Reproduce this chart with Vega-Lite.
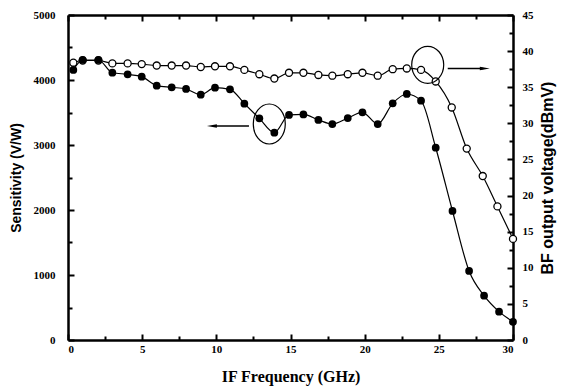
{
  "$schema": "https://vega.github.io/schema/vega-lite/v6.json",
  "width": 445,
  "height": 325,
  "autosize": {"type": "none"},
  "padding": {"left": 68, "top": 15, "right": 48, "bottom": 50},
  "background": "white",
  "config": {
    "view": {"stroke": null},
    "font": "Liberation Serif",
    "axis": {
      "domainColor": "black",
      "domainWidth": 2.5,
      "tickColor": "black",
      "tickWidth": 2,
      "labelFont": "Liberation Serif",
      "labelFontWeight": "bold",
      "labelFontSize": 11,
      "labelColor": "black",
      "titleFont": "Liberation Serif",
      "titleFontWeight": "bold",
      "titleFontSize": 14,
      "titleColor": "black",
      "grid": false
    }
  },
  "datasets": {
    "sens": [
      {"f": 0.36, "s": 4154}, {"f": 0.99, "s": 4308}, {"f": 2.05, "s": 4308}, {"f": 2.99, "s": 4112},
      {"f": 4.02, "s": 4087}, {"f": 4.97, "s": 4051}, {"f": 5.98, "s": 3913}, {"f": 6.99, "s": 3887},
      {"f": 7.96, "s": 3862}, {"f": 8.95, "s": 3774}, {"f": 9.91, "s": 3882}, {"f": 10.92, "s": 3857},
      {"f": 11.89, "s": 3636}, {"f": 12.9, "s": 3410}, {"f": 13.91, "s": 3190}, {"f": 14.9, "s": 3462},
      {"f": 15.87, "s": 3470}, {"f": 16.88, "s": 3385}, {"f": 17.82, "s": 3323}, {"f": 18.86, "s": 3415},
      {"f": 19.85, "s": 3503}, {"f": 20.88, "s": 3323}, {"f": 21.89, "s": 3641}, {"f": 22.84, "s": 3785},
      {"f": 23.8, "s": 3682}, {"f": 24.79, "s": 2958}, {"f": 25.92, "s": 1985}, {"f": 27.04, "s": 1062},
      {"f": 28.05, "s": 682}, {"f": 29.06, "s": 436}, {"f": 30, "s": 280}
    ],
    "volt": [
      {"f": 0.36, "v": 38.4}, {"f": 0.99, "v": 38.7}, {"f": 2.05, "v": 38.7}, {"f": 2.99, "v": 38.3},
      {"f": 4.02, "v": 38.3}, {"f": 4.97, "v": 38.2}, {"f": 5.98, "v": 38.0}, {"f": 6.99, "v": 38.0},
      {"f": 7.96, "v": 38.0}, {"f": 8.95, "v": 37.8}, {"f": 9.91, "v": 37.9}, {"f": 10.92, "v": 37.9},
      {"f": 11.89, "v": 37.4}, {"f": 12.9, "v": 36.8}, {"f": 13.91, "v": 36.2}, {"f": 14.9, "v": 37.0},
      {"f": 15.87, "v": 37.0}, {"f": 16.88, "v": 36.7}, {"f": 17.82, "v": 36.6}, {"f": 18.86, "v": 36.8},
      {"f": 19.85, "v": 37.0}, {"f": 20.88, "v": 36.6}, {"f": 21.89, "v": 37.5}, {"f": 22.84, "v": 37.6},
      {"f": 23.8, "v": 37.4}, {"f": 24.79, "v": 35.8}, {"f": 25.87, "v": 32.2}, {"f": 26.88, "v": 26.5},
      {"f": 27.96, "v": 22.7}, {"f": 28.95, "v": 18.5}, {"f": 30, "v": 14.0}
    ],
    "ellR": [{"f": 24.25, "v": 38.1}],
    "arrR": [{"f": 25.6, "f2": 28.0, "v": 37.6}],
    "headR": [{"f": 28.1, "v": 37.6}],
    "ellL": [{"f": 13.57, "s": 3323}],
    "arrL": [{"f": 12.2, "f2": 9.8, "s": 3292}],
    "headL": [{"f": 9.7, "s": 3292}]
  },
  "layer": [
    {
      "encoding": {
        "x": {
          "field": "f", "type": "quantitative",
          "scale": {"domain": [0, 30], "nice": false},
          "axis": {
            "orient": "top", "labels": false, "title": null,
            "values": [0, 2.5, 5, 7.5, 10, 12.5, 15, 17.5, 20, 22.5, 25, 27.5, 30],
            "tickSize": {"condition": {"test": "datum.value % 5 === 0", "value": -6}, "value": -4}
          }
        },
        "y": {
          "field": "v", "type": "quantitative",
          "scale": {"domain": [0, 45], "nice": false},
          "axis": {
            "orient": "right", "title": "BF output voltage(dBmV)", "titleAngle": 270,
            "titleFont": "Liberation Sans", "titleFontSize": 16,
            "titlePadding": 22,
            "values": [0, 2.5, 5, 7.5, 10, 12.5, 15, 17.5, 20, 22.5, 25, 27.5, 30, 32.5, 35, 37.5, 40, 42.5, 45],
            "labelExpr": "datum.value % 5 === 0 ? datum.label : ''",
            "labelPadding": 15,
            "tickSize": {"condition": {"test": "datum.value % 5 === 0", "value": -6}, "value": -4}
          }
        }
      },
      "layer": [
        {"data": {"name": "volt"}, "mark": {"type": "line", "interpolate": "monotone", "color": "black", "strokeWidth": 1.2}},
        {"data": {"name": "volt"}, "mark": {"type": "point", "shape": "circle", "filled": false, "fill": "white", "fillOpacity": 1, "stroke": "black", "strokeWidth": 1.3, "size": 50, "opacity": 1}},
        {"data": {"name": "ellR"}, "mark": {"type": "point", "shape": "M -0.865,0 A 0.865,1 0 1,1 0.865,0 A 0.865,1 0 1,1 -0.865,0 Z", "filled": false, "stroke": "black", "strokeWidth": 1.2, "size": 1369, "opacity": 1}},
        {"data": {"name": "arrR"}, "mark": {"type": "rule", "color": "black", "strokeWidth": 1.5}, "encoding": {"x2": {"field": "f2"}}},
        {"data": {"name": "headR"}, "mark": {"type": "point", "shape": "M -1,-0.35 L 1,0 L -1,0.35 Z", "filled": true, "color": "black", "size": 100, "opacity": 1}}
      ]
    },
    {
      "encoding": {
        "x": {
          "field": "f", "type": "quantitative",
          "scale": {"domain": [0, 30], "nice": false},
          "axis": {
            "orient": "bottom", "title": "IF Frequency (GHz)", "titleFontSize": 16, "titlePadding": 14,
            "values": [0, 2.5, 5, 7.5, 10, 12.5, 15, 17.5, 20, 22.5, 25, 27.5, 30],
            "labelExpr": "datum.value % 5 === 0 ? datum.label : ''",
            "labelPadding": 9,
            "tickSize": {"condition": {"test": "datum.value % 5 === 0", "value": -6}, "value": -4}
          }
        },
        "y": {
          "field": "s", "type": "quantitative",
          "scale": {"domain": [0, 5000], "nice": false},
          "axis": {
            "orient": "left", "title": "Sensitivity (V/W)", "titleFont": "Liberation Sans", "titleFontSize": 14,
            "titlePadding": 10,
            "values": [0, 500, 1000, 1500, 2000, 2500, 3000, 3500, 4000, 4500, 5000],
            "labelExpr": "datum.value % 1000 === 0 ? datum.label : ''",
            "format": "d",
            "labelPadding": 19,
            "tickSize": {"condition": {"test": "datum.value % 1000 === 0", "value": -6}, "value": -4}
          }
        }
      },
      "layer": [
        {"data": {"name": "sens"}, "mark": {"type": "line", "interpolate": "monotone", "color": "black", "strokeWidth": 1.2}},
        {"data": {"name": "sens"}, "mark": {"type": "point", "shape": "circle", "filled": true, "color": "black", "size": 60, "opacity": 1}},
        {"data": {"name": "ellL"}, "mark": {"type": "point", "shape": "M -0.8,0 A 0.8,1 0 1,1 0.8,0 A 0.8,1 0 1,1 -0.8,0 Z", "filled": false, "stroke": "black", "strokeWidth": 1.2, "size": 1600, "opacity": 1}},
        {"data": {"name": "arrL"}, "mark": {"type": "rule", "color": "black", "strokeWidth": 1.5}, "encoding": {"x2": {"field": "f2"}}},
        {"data": {"name": "headL"}, "mark": {"type": "point", "shape": "M 1,-0.35 L -1,0 L 1,0.35 Z", "filled": true, "color": "black", "size": 100, "opacity": 1}}
      ]
    }
  ],
  "resolve": {"scale": {"y": "independent"}, "axis": {"x": "independent"}}
}
